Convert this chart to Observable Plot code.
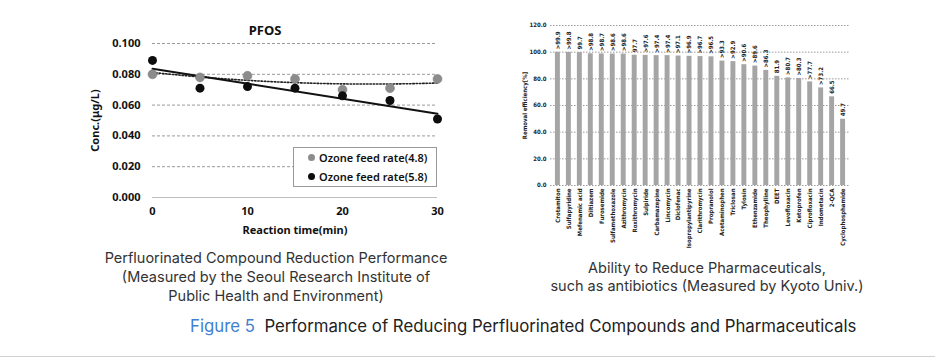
<!DOCTYPE html>
<html><head><meta charset="utf-8">
<script src="https://cdn.jsdelivr.net/npm/d3@7"></script>
<script src="https://cdn.jsdelivr.net/npm/@observablehq/plot@0.6"></script>
<style>
body{margin:0;background:#fff;}
#wrap{position:relative;width:935px;height:358px;overflow:hidden;font-family:Inter,sans-serif;background:#fff;}
.abs{position:absolute;}
#pfos{left:215px;top:21px;width:100px;text-align:center;font:bold 13px 'Noto Sans',sans-serif;color:#111;}
#legend{left:293px;top:147px;width:142px;height:38px;border:1px solid #999;background:#fff;font:600 11px 'Noto Sans',sans-serif;color:#111;}
#legend .row{position:absolute;left:14px;white-space:nowrap;display:flex;align-items:center;}
#legend .dot{display:inline-block;width:7px;height:7px;border-radius:50%;margin-right:4px;}
.cap{font-size:14.5px;line-height:19px;color:#333;text-align:center;font-weight:400;}
#capL{left:76px;top:248px;width:400px;}
#capR{left:507px;top:259px;width:400px;line-height:18px;}
#fig{left:190px;top:316px;white-space:nowrap;font-size:16.8px;color:#222;}
#fig .blue{color:#3f7fd1;}
#rule{left:0;top:356px;width:935px;height:1px;background:#d0d0d0;}
</style></head><body>
<div id="wrap">
  <div id="leftPlot" class="abs" style="left:0;top:0"></div>
  <div id="rightPlot" class="abs" style="left:490px;top:0"></div>
  <div id="pfos" class="abs"></div>
  <div id="legend" class="abs"></div>
  <div id="capL" class="abs cap"></div>
  <div id="capR" class="abs cap"></div>
  <div id="fig" class="abs"></div>
  <div id="rule" class="abs"></div>
</div>
<script>
// ---- Left chart data (PFOS) ----
const leftTitle = "PFOS";
const times = [0, 5, 10, 15, 20, 25, 30];
const feedRate48 = [0.080, 0.078, 0.079, 0.077, 0.070, 0.071, 0.077];
const feedRate58 = [0.089, 0.071, 0.072, 0.071, 0.066, 0.063, 0.051];
const seriesNames = ["Ozone feed rate(4.8)", "Ozone feed rate(5.8)"];
const concTicks = [0, 0.02, 0.04, 0.06, 0.08, 0.1];
const timeTicks = [0, 10, 20, 30];

// ---- Right chart data (pharmaceuticals) ----
const drugs = ["Crotamiton","Sulfapyridine","Mefenamic acid","Diltiazem","Furosemide","Sulfamethoxazole","Azithromycin","Roxithromycin","Sulpiride","Carbamazepine","Lincomycin","Diclofenac","Isopropylantipyrine","Clarithromycin","Propranolol","Acetaminophen","Triclosan","Tylosin","Ethenzamide","Theophylline","DEET","Levofloxacin","Ketoprofen","Ciprofloxacin","Indometacin","2-QCA","Cyclophosphamide"];
const removal = [99.9,99.8,99.7,98.8,98.7,98.6,98.6,97.7,97.6,97.4,97.4,97.1,96.9,96.7,96.5,93.3,92.9,90.6,89.6,86.3,81.9,80.7,80.3,77.7,73.2,66.5,49.7];
const removalLabels = [">99.9",">99.8","99.7",">98.8",">98.7",">98.6",">98.6","97.7",">97.6",">97.4",">97.4",">97.1",">96.9",">96.7",">96.5",">93.3",">92.9",">90.6",">89.6",">86.3","81.9",">80.7",">80.3",">77.7",">73.2","66.5","49.7"];
const effTicks = [0, 20, 40, 60, 80, 100, 120];

// ---- Texts ----
const captionLeft = ["Perfluorinated Compound Reduction Performance","(Measured by the Seoul Research Institute of","Public Health and Environment)"];
const captionRight = ["Ability to Reduce Pharmaceuticals,","such as antibiotics (Measured by Kyoto Univ.)"];
const figLabel = "Figure 5";
const figTitle = "Performance of Reducing Perfluorinated Compounds and Pharmaceuticals";

// ---- Build left chart ----
const d48 = times.map((t, i) => ({t, c: feedRate48[i]}));
const d58 = times.map((t, i) => ({t, c: feedRate58[i]}));

// polynomial (order 2) trendline fitted to the 4.8 series
function quadFit(xs, ys) {
  const n = xs.length;
  let s = [0,0,0,0,0], sy = [0,0,0];
  for (let i = 0; i < n; i++) {
    const x = xs[i], y = ys[i];
    for (let k = 0; k < 5; k++) s[k] += Math.pow(x, k);
    for (let k = 0; k < 3; k++) sy[k] += Math.pow(x, k) * y;
  }
  const A = [[s[0],s[1],s[2],sy[0]],[s[1],s[2],s[3],sy[1]],[s[2],s[3],s[4],sy[2]]];
  for (let i = 0; i < 3; i++) {
    for (let j = i + 1; j < 3; j++) {
      const f = A[j][i] / A[i][i];
      for (let k = i; k < 4; k++) A[j][k] -= f * A[i][k];
    }
  }
  const c = [0,0,0];
  for (let i = 2; i >= 0; i--) {
    let v = A[i][3];
    for (let k = i + 1; k < 3; k++) v -= A[i][k] * c[k];
    c[i] = v / A[i][i];
  }
  return c;
}
const q = quadFit(times, feedRate48);
const xmin = d3.min(times), xmax = d3.max(times);
const trend48 = d3.range(0, 61).map(k => {
  const t = xmin + (xmax - xmin) * k / 60;
  return {t, c: q[0] + q[1] * t + q[2] * t * t};
});

const leftPlot = Plot.plot({
  width: 470, height: 245,
  marginLeft: 152, marginRight: 33, marginTop: 43, marginBottom: 48,
  style: {fontFamily: "'Noto Sans', sans-serif", fontSize: "11px", fontWeight: "bold", color: "#111", background: "transparent"},
  x: {domain: [0, 30], ticks: timeTicks, tickSize: 0, tickPadding: 10, label: "Reaction time(min)", labelAnchor: "center", labelArrow: "none", labelOffset: 36},
  y: {domain: [0, 0.1], ticks: concTicks, tickSize: 0, tickPadding: 12, tickFormat: d => d.toFixed(3), label: "Conc.(μg/L)", labelAnchor: "center", labelArrow: "none", labelOffset: 61},
  marks: [
    Plot.ruleY(concTicks.filter(d => d > 0), {stroke: "#9a9a9a", strokeDasharray: "3,2", strokeWidth: 1}),
    Plot.ruleY([0], {stroke: "#bdbdbd", strokeWidth: 1}),
    Plot.line(trend48, {x: "t", y: "c", stroke: "#222", strokeWidth: 1.6, strokeDasharray: "1.5,1.8"}),
    Plot.linearRegressionY(d58, {x: "t", y: "c", stroke: "#111", strokeWidth: 2, ci: 0}),
    Plot.dot(d48, {x: "t", y: "c", r: 4.5, fill: "#8c8c8c", stroke: "#7a7a7a", strokeWidth: 0.5}),
    Plot.dot(d58, {x: "t", y: "c", r: 4.5, fill: "#0d0d0d"})
  ]
});
document.getElementById("leftPlot").appendChild(leftPlot);

// ---- Build right chart ----
const table = drugs.map((name, i) => ({name, v: removal[i], label: removalLabels[i]}));
const rightPlot = Plot.plot({
  width: 445, height: 262,
  marginLeft: 60, marginRight: 85, marginTop: 25, marginBottom: 77,
  style: {fontFamily: "'DejaVu Sans Condensed', 'Noto Sans', sans-serif", fontSize: "6px", fontWeight: "bold", color: "#222", background: "transparent"},
  x: {domain: drugs, paddingInner: 0.55, paddingOuter: 0.45, round: false, tickRotate: -90, tickSize: 0, tickPadding: 3, label: null},
  y: {domain: [0, 120], ticks: effTicks, tickSize: 0, tickPadding: 4, tickFormat: d => d.toFixed(1), label: "Removal efficiency[%]", labelAnchor: "center", labelArrow: "none", labelOffset: 28},
  marks: [
    Plot.ruleY(effTicks, {stroke: "#9a9a9a", strokeDasharray: "1.5,1.5", strokeWidth: 1}),
    Plot.barY(table, {x: "name", y: "v", fill: "#a5a5a5"}),
    Plot.text(table, {x: "name", y: "v", text: "label", rotate: -90, textAnchor: "start", dy: -3, fontSize: 6, fill: "#222"})
  ]
});
document.getElementById("rightPlot").appendChild(rightPlot);

// ---- Texts ----
document.getElementById("pfos").textContent = leftTitle;
const legendColors = ["#8c8c8c", "#0d0d0d"];
document.getElementById("legend").innerHTML = seriesNames.map((s, i) =>
  `<div class="row" style="top:${i === 0 ? 2 : 21}px"><span class="dot" style="background:${legendColors[i]}"></span>${s}</div>`).join("");
document.getElementById("capL").innerHTML = captionLeft.join("<br>");
document.getElementById("capR").innerHTML = captionRight.join("<br>");
document.getElementById("fig").innerHTML = `<span class="blue">${figLabel}</span>&nbsp; ${figTitle}`;
</script>
</body></html>
